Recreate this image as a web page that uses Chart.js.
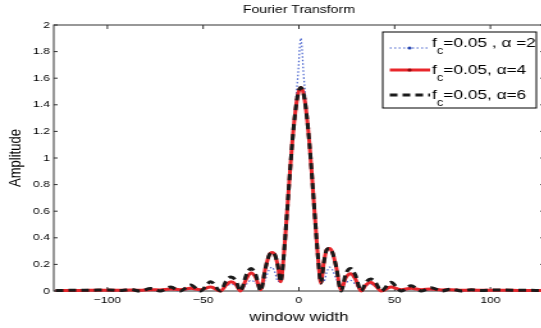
<!DOCTYPE html>
<html>
<head>
<meta charset="utf-8">
<script src="https://cdn.jsdelivr.net/npm/chart.js@4.4.1/dist/chart.umd.min.js"></script>
<style>
  html, body { margin: 0; padding: 0; background: #fff; overflow: hidden; }
  /* the reference figure is stretched sideways, so the canvas is too */
  #wrap { width: 427px; height: 328px; transform: scaleX(1.28); transform-origin: 0 0; }
</style>
</head>
<body>
<div id="wrap"><canvas id="ftChart" width="427" height="328"></canvas></div>
<script>
const windowWidth = [
  -127, -119, -109, -99, -93.5, -88, -83, -77.5, -72.5, -67,
  -62, -56.5, -51.5, -46, -41, -38, -35.5, -33, -30.5, -27.5,
  -25, -22.5, -20, -17.5, -15.5, -14, -12.5, -11, -9.5, -8,
  -6.5, -5, -3.5, -2, -0.5,
  1,
  2.5, 4, 5.5, 7, 8.5, 10, 11.5, 13, 14.5, 16,
  17.5, 19.5, 22, 24.5, 27, 29.5, 32.5, 35, 37.5, 40,
  43, 48, 53.5, 58.5, 64, 69, 74.5, 79.5, 85, 90,
  95.5, 101, 111, 121, 128
];
const ampAlpha2 = [
  0.002, 0.002, 0.002, 0.003, 0, 0.004, 0, 0.005, 0, 0.01,
  0, 0.015, 0, 0.03, 0, 0.035, 0.05, 0.04, 0, 0.05,
  0.08, 0.06, 0.02, 0.09, 0.16, 0.18, 0.14, 0.07, 0.12, 0.28,
  0.56, 0.86, 1.15, 1.38, 1.62,
  1.90,
  1.62, 1.38, 1.15, 0.86, 0.56, 0.28, 0.12, 0.07, 0.14, 0.18,
  0.16, 0.09, 0.02, 0.06, 0.08, 0.05, 0, 0.04, 0.05, 0.035,
  0, 0.03, 0, 0.015, 0, 0.01, 0, 0.005, 0, 0.004,
  0, 0.003, 0.002, 0.002, 0.002
];
const ampAlpha4 = [
  0.004, 0.004, 0.005, 0.006, 0.005, 0.008, 0.005, 0.01, 0.008, 0.015,
  0.01, 0.02, 0.01, 0.03, 0, 0.045, 0.07, 0.05, 0, 0.09,
  0.135, 0.1, 0.01, 0.17, 0.27, 0.29, 0.27, 0.19, 0.07, 0.25,
  0.53, 0.83, 1.11, 1.33, 1.48,
  1.53,
  1.48, 1.33, 1.11, 0.83, 0.53, 0.25, 0.06, 0.21, 0.31, 0.32,
  0.29, 0.18, 0.01, 0.1, 0.13, 0.09, 0, 0.045, 0.065, 0.04,
  0, 0.03, 0.01, 0.02, 0.01, 0.015, 0.008, 0.01, 0.005, 0.008,
  0.005, 0.006, 0.005, 0.004, 0.004
];
const ampAlpha6 = [
  0.004, 0.005, 0.006, 0.008, 0.003, 0.012, 0, 0.018, 0, 0.03,
  0, 0.045, 0, 0.07, 0, 0.075, 0.105, 0.08, 0, 0.12,
  0.17, 0.12, 0, 0.17, 0.27, 0.29, 0.27, 0.19, 0.07, 0.25,
  0.53, 0.83, 1.11, 1.33, 1.48,
  1.53,
  1.48, 1.33, 1.11, 0.83, 0.53, 0.25, 0.06, 0.21, 0.31, 0.32,
  0.29, 0.18, 0, 0.13, 0.17, 0.12, 0, 0.065, 0.09, 0.065,
  0, 0.065, 0, 0.04, 0, 0.025, 0, 0.015, 0, 0.01,
  0.003, 0.008, 0.006, 0.005, 0.004
];
const xTicks = [-100, -50, 0, 50, 100];
const yTicks = [0, 0.2, 0.4, 0.6, 0.8, 1, 1.2, 1.4, 1.6, 1.8, 2];
// [before subscript, subscript, after subscript]
const legendLabels = [
  ['f', 'c', '=0.05 , \u03b1 =2'],
  ['f', 'c', '=0.05, \u03b1=4'],
  ['f', 'c', '=0.05, \u03b1=6']
];

const FONT = "'Liberation Sans', Arial, Helvetica, sans-serif";
Chart.defaults.font.family = FONT;
Chart.defaults.color = '#000';

const toPoints = ys => ys.map((v, i) => ({ x: windowWidth[i], y: v }));

// MATLAB style box with inward ticks
const axesBox = {
  id: 'axesBox',
  beforeDatasetsDraw(chart) {
    const { ctx, chartArea: a, scales: { x, y } } = chart;
    ctx.save();
    ctx.strokeStyle = '#333';
    ctx.lineWidth = 1;
    ctx.strokeRect(a.left, a.top, a.right - a.left, a.bottom - a.top);
    ctx.beginPath();
    xTicks.forEach(v => {
      const px = x.getPixelForValue(v);
      ctx.moveTo(px, a.bottom); ctx.lineTo(px, a.bottom - 4);
      ctx.moveTo(px, a.top); ctx.lineTo(px, a.top + 4);
    });
    yTicks.forEach(v => {
      const py = y.getPixelForValue(v);
      ctx.moveTo(a.left, py); ctx.lineTo(a.left + 3, py);
      ctx.moveTo(a.right, py); ctx.lineTo(a.right - 3, py);
    });
    ctx.stroke();
    ctx.restore();
  }
};

// boxed legend in the upper right corner, with subscript text
const boxLegend = {
  id: 'boxLegend',
  afterDatasetsDraw(chart) {
    const ctx = chart.ctx;
    const bx = 299, by = 32, bw = 120, bh = 76;
    const rowY = [48, 70, 95];
    const baseY = [47, 73.5, 99];
    ctx.save();
    ctx.fillStyle = '#fff';
    ctx.fillRect(bx, by, bw, bh);
    ctx.strokeStyle = '#000';
    ctx.lineWidth = 1;
    ctx.strokeRect(bx, by, bw, bh);
    chart.data.datasets.forEach((ds, i) => {
      const y = rowY[i];
      ctx.save();
      ctx.strokeStyle = ds.borderColor;
      ctx.lineWidth = ds.borderWidth;
      ctx.setLineDash(ds.borderDash || []);
      ctx.beginPath();
      ctx.moveTo(304.5, y);
      ctx.lineTo(336, y);
      ctx.stroke();
      ctx.restore();
      if (i < 2) {
        ctx.fillStyle = ds.markerColor;
        ctx.beginPath();
        ctx.arc(320, y, 1.6, 0, Math.PI * 2);
        ctx.fill();
      }
      const [a, sub, rest] = legendLabels[i];
      ctx.fillStyle = '#000';
      ctx.textBaseline = 'alphabetic';
      ctx.font = '13.5px ' + FONT;
      let tx = 337.5;
      ctx.fillText(a, tx, baseY[i]);
      tx += ctx.measureText(a).width;
      ctx.font = '10px ' + FONT;
      ctx.fillText(sub, tx, baseY[i] + 7);
      tx += ctx.measureText(sub).width;
      ctx.font = '13.5px ' + FONT;
      ctx.fillText(rest, tx, baseY[i]);
    });
    ctx.restore();
  }
};

new Chart(document.getElementById('ftChart'), {
  type: 'line',
  data: {
    datasets: [
      {
        label: 'alpha 2',
        data: toPoints(ampAlpha2),
        borderColor: 'rgba(50, 80, 200, 0.9)',
        markerColor: '#2040b0',
        borderWidth: 1.2,
        borderDash: [1.5, 2],
        order: 2
      },
      {
        label: 'alpha 4',
        data: toPoints(ampAlpha4),
        borderColor: '#e8262b',
        markerColor: '#8a0c10',
        borderWidth: 3,
        order: 1
      },
      {
        label: 'alpha 6',
        data: toPoints(ampAlpha6),
        borderColor: '#1a1a1a',
        borderWidth: 3,
        borderDash: [6, 4],
        order: 0
      }
    ]
  },
  options: {
    responsive: false,
    animation: false,
    clip: false,
    elements: {
      point: { radius: 0 },
      line: { cubicInterpolationMode: 'monotone', fill: false }
    },
    layout: { padding: { left: 0, right: 2, top: 0, bottom: 0 } },
    plugins: {
      legend: { display: false },
      tooltip: { enabled: false },
      title: {
        display: true,
        text: 'Fourier Transform',
        fullSize: false,
        color: '#000',
        font: { size: 11, weight: 'normal', lineHeight: 1.2 },
        padding: { top: 3.4, bottom: 8.4 }
      }
    },
    scales: {
      x: {
        type: 'linear',
        min: -128,
        max: 128,
        grid: { display: false, drawTicks: false },
        border: { display: false },
        afterBuildTicks: s => { s.ticks = xTicks.map(v => ({ value: v })); },
        afterFit: s => { s.height = 37; },
        ticks: {
          padding: 4,
          maxRotation: 0,
          font: { size: 9.5 },
          callback: v => String(v).replace('-', '\u2212')
        },
        title: {
          display: true,
          text: 'window width',
          font: { size: 13 },
          padding: { top: 0, bottom: 2.7 }
        }
      },
      y: {
        min: 0,
        max: 2,
        grid: { display: false, drawTicks: false },
        border: { display: false },
        afterBuildTicks: s => { s.ticks = yTicks.map(v => ({ value: v })); },
        afterFit: s => { s.width = 42; },
        ticks: {
          padding: 3,
          font: { size: 9.5 },
          callback: v => String(Math.round(v * 10) / 10)
        },
        title: {
          display: true,
          text: 'Amplitude',
          font: { size: 13 },
          padding: { top: 4.5, bottom: 0 }
        }
      }
    }
  },
  plugins: [axesBox, boxLegend]
});
</script>
</body>
</html>
